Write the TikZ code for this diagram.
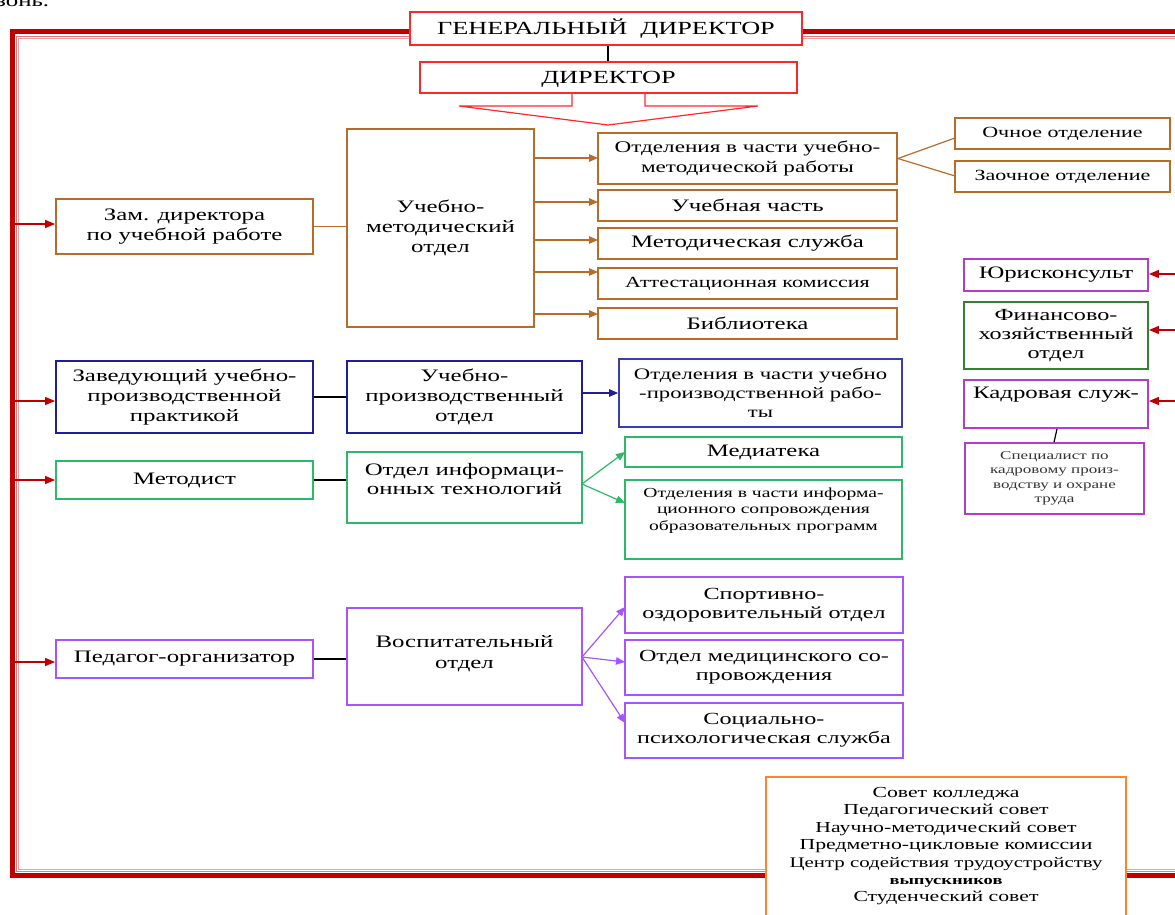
\documentclass[tikz,border=0pt]{standalone}
\usepackage{fontspec}
\setmainfont{Liberation Serif}[FakeStretch=1.42]
\usetikzlibrary{arrows.meta,calc}
\definecolor{framered}{RGB}{192,0,0}
\definecolor{framelight}{RGB}{228,120,120}
\definecolor{genred}{RGB}{255,40,40}
\definecolor{brownc}{RGB}{185,108,40}
\definecolor{navyc}{RGB}{30,30,150}
\definecolor{bluec}{RGB}{60,60,175}
\definecolor{grnc}{RGB}{45,185,105}
\definecolor{dgrnc}{RGB}{50,130,50}
\definecolor{purpc}{RGB}{165,85,255}
\definecolor{magc}{RGB}{180,60,200}
\definecolor{orngc}{RGB}{255,130,50}
\begin{document}
\begin{tikzpicture}[x=1pt,y=-1pt,
  rect/.style n args={4}{at={({(#1+#3)/2},{(#2+#4)/2})},
    minimum width={#3-#1}, minimum height={#4-#2}},
  box/.style={draw, fill=white, line width=1.8pt, inner sep=0pt, align=center,
    font=\fontsize{17.5}{20}\selectfont},
  topbox/.style={draw=genred, fill=white, line width=1.6pt, inner sep=0pt, align=center,
    font=\fontsize{18.5}{22}\selectfont},
  txt/.style={align=center, inner sep=0pt},
  redarr/.style={framered, line width=1.2pt, -{Triangle[length=10pt,width=8pt]}},
  brarr/.style={brownc, line width=1.2pt, -{Triangle[length=9pt,width=7.5pt]}},
  bluearr/.style={navyc, line width=1.2pt, -{Triangle[length=9pt,width=7.5pt]}},
  grnarr/.style={grnc, line width=1.2pt, -{Triangle[length=9pt,width=7.5pt]}},
  purarr/.style={purpc, line width=1.2pt, -{Triangle[length=9pt,width=7.5pt]}},
  plain/.style={line width=1.2pt},
]
\useasboundingbox (0,0) rectangle (1175,915);

% clipped text at top
\node[anchor=base west, inner sep=0pt, font=\fontsize{17.5}{20}\selectfont] (frag) at (-4,7) {зонь.};

% frame
\draw[framered, line width=5pt] (12.5,32) rectangle (1220,875.5);
\draw[framelight, line width=0.9pt] (16.5,36) rectangle (1220,871.5);
\draw[framelight!70, line width=0.9pt] (18.5,38) rectangle (1220,869.5);

% top
\node[topbox, rect={410}{12}{802}{45}] (gen) {ГЕНЕРАЛЬНЫЙ\ \ ДИРЕКТОР};
\node[topbox, rect={420}{62}{797}{93}] (dir) {};
\node[txt, font=\fontsize{18.5}{22}\selectfont] at ([yshift=-2]dir.center) {ДИРЕКТОР};
\draw[line width=1.5pt] (gen.south -| 608,0) -- (dir.north -| 608,0);
\draw[genred, line width=1.2pt] (572,93) -- (572,106) -- (459,106) -- (608,125) -- (758,106) -- (645,106) -- (645,93);

% brown group
\node[box, draw=brownc, rect={56}{199}{313}{254}] (zam) {Зам. директора\\по учебной работе};
\node[box, draw=brownc, rect={347}{129}{534}{327}] (umo) {Учебно-\\методический\\отдел};
\node[box, draw=brownc, rect={598}{133}{897}{184}, font=\fontsize{16.3}{19.5}\selectfont] (otd1) {Отделения в части учебно-\\методической работы};
\node[box, draw=brownc, rect={598}{190}{897}{221}] (uch) {Учебная часть};
\node[box, draw=brownc, rect={598}{228}{897}{259}] (met) {Методическая служба};
\node[box, draw=brownc, rect={598}{268}{897}{299}, font=\fontsize{15.5}{19}\selectfont] (att) {Аттестационная комиссия};
\node[box, draw=brownc, rect={598}{308}{897}{339}] (bib) {Библиотека};
\node[box, draw=brownc, rect={955}{118}{1170}{149}, font=\fontsize{15.5}{19}\selectfont] (och) {Очное отделение};
\node[box, draw=brownc, rect={955}{161}{1170}{192}, font=\fontsize{15.5}{19}\selectfont] (zaoch) {Заочное отделение};

\draw[brownc, plain] (zam.east) -- (zam.east -| umo.west);
\coordinate (b1) at (598,158);
\coordinate (b2) at (598,202);
\coordinate (b3) at (598,240);
\coordinate (b4) at (598,272);
\coordinate (b5) at (598,314);
\draw[brarr] (umo.east |- b1) -- (b1);
\draw[brarr] (umo.east |- b2) -- (b2);
\draw[brarr] (umo.east |- b3) -- (b3);
\draw[brarr] (umo.east |- b4) -- (b4);
\draw[brarr] (umo.east |- b5) -- (b5);
\coordinate (c1) at (955,138);
\coordinate (c2) at (955,176);
\draw[brownc, plain] (otd1.east) -- (c1);
\draw[brownc, plain] (otd1.east) -- (c2);

% blue group
\node[box, draw=navyc, rect={56}{361}{313}{433}] (zav) {Заведующий учебно-\\производственной\\практикой};
\node[box, draw=navyc, rect={347}{361}{582}{433}] (upo) {Учебно-\\производственный\\отдел};
\node[box, draw=bluec, rect={619}{359}{902}{427}, font=\fontsize{16}{19}\selectfont] (otdup) {Отделения в части учебно\\-производственной рабо-\\ты};
\draw[plain] (zav.east) -- (zav.east -| upo.west);
\draw[bluearr] (upo.east |- otdup.west) -- (otdup.west);

% green group
\node[box, draw=grnc, rect={56}{461}{313}{499}] (metod) {Методист};
\node[box, draw=grnc, rect={347}{452}{582}{523}] (oit) {};
\node[txt, font=\fontsize{17.5}{19}\selectfont] at ([yshift=8]oit.center) {Отдел информаци-\\онных технологий};
\node[box, draw=grnc, rect={625}{437}{902}{467}] (media) {Медиатека};
\node[box, draw=grnc, rect={625}{480}{902}{559}] (otdinf) {};
\node[txt, font=\fontsize{13.8}{16.5}\selectfont] at ([yshift=9]otdinf.center) {Отделения в части информа-\\ционного сопровождения\\образовательных программ};
\draw[plain] (metod.east) -- (metod.east -| oit.west);
\coordinate (g0) at (582,484);
\coordinate (g1) at (625,452);
\coordinate (g2) at (625,503);
\draw[grnarr] (g0) -- (g1);
\draw[grnarr] (g0) -- (g2);

% purple group
\node[box, draw=purpc, rect={56}{640}{313}{678}] (ped) {Педагог-организатор};
\node[box, draw=purpc, rect={347}{608}{582}{705}] (vosp) {};
\node[txt, font=\fontsize{17.5}{21}\selectfont] at ([yshift=3]vosp.center) {Воспитательный\\отдел};
\node[box, draw=purpc, rect={625}{577}{903}{633}, font=\fontsize{17}{19}\selectfont] (sport) {Спортивно-\\оздоровительный отдел};
\node[box, draw=purpc, rect={625}{640}{903}{695}, font=\fontsize{17}{19}\selectfont] (med) {Отдел медицинского со-\\провождения};
\node[box, draw=purpc, rect={625}{703}{903}{758}, font=\fontsize{17}{19}\selectfont] (soc) {Социально-\\психологическая служба};
\draw[plain] (ped.east) -- (ped.east -| vosp.west);
\coordinate (p0) at (582,657);
\coordinate (p1) at (625,607);
\coordinate (p2) at (625,662);
\coordinate (p3) at (625,723);
\draw[purarr] (p0) -- (p1);
\draw[purarr] (p0) -- (p2);
\draw[purarr] (p0) -- (p3);

% left red arrows
\coordinate (l1) at (15,224);
\coordinate (l2) at (15,401);
\coordinate (l3) at (15,480);
\coordinate (l4) at (15,662);
\draw[redarr] (l1) -- (l1 -| zam.west);
\draw[redarr] (l2) -- (l2 -| zav.west);
\draw[redarr] (l3) -- (l3 -| metod.west);
\draw[redarr] (l4) -- (l4 -| ped.west);

% right column
\node[box, draw=magc, rect={964}{259}{1148}{291}] (yur) {Юрисконсульт};
\node[box, draw=dgrnc, rect={964}{302}{1148}{369}, font=\fontsize{17}{19}\selectfont] (fin) {Финансово-\\хозяйственный\\отдел};
\node[box, draw=magc, rect={964}{380}{1148}{428}] (kadr) {};
\node[txt, font=\fontsize{17.5}{20}\selectfont] at ([yshift=9]kadr.center) {Кадровая служ-};
\node[box, draw=magc, line width=1.4pt, rect={965}{443}{1144}{514}, font=\fontsize{12}{14.5}\selectfont, text=black!80] (spec) {Специалист по\\кадровому произ-\\водству и охране\\труда};
\draw[plain] (kadr.south -| 1057,0) -- (spec.north -| 1054,0);
\coordinate (r1) at (1180,274);
\coordinate (r2) at (1180,330);
\coordinate (r3) at (1180,401);
\draw[redarr] (r1) -- (r1 -| yur.east);
\draw[redarr] (r2) -- (r2 -| fin.east);
\draw[redarr] (r3) -- (r3 -| kadr.east);

% councils
\node[box, draw=orngc, rect={766}{777}{1126}{940}] (sovet) {};
\node[txt, anchor=north, font=\fontsize{15.3}{17.4}\selectfont] at ([yshift=-11]sovet.north) {Совет колледжа\\Педагогический совет\\Научно-методический совет\\Предметно-цикловые комиссии\\{\fontsize{14.7}{17.4}\selectfont Центр содействия трудоустройству}\\{\fontsize{13}{15.5}\selectfont\bfseries выпускников}\\Студенческий совет};
\end{tikzpicture}
\end{document}
